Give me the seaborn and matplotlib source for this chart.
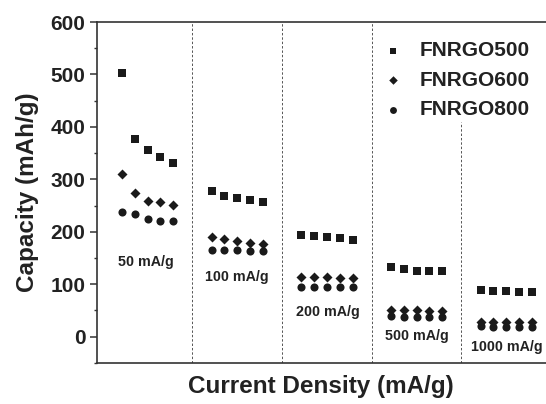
import matplotlib
matplotlib.use("Agg")
import matplotlib.pyplot as plt
from matplotlib.ticker import MultipleLocator
import seaborn as sns
import pandas as pd
import numpy as np

# current densities (one block of 5 cycles each)
rates = ["50 mA/g", "100 mA/g", "200 mA/g", "500 mA/g", "1000 mA/g"]
samples = ["FNRGO500", "FNRGO600", "FNRGO800"]

fnrgo500 = [502, 377, 356, 342, 331, 277, 269, 264, 260, 256,
            194, 191, 189, 188, 185, 132, 128, 126, 125, 125,
            88, 87, 86, 85, 85]
fnrgo600 = [310, 274, 258, 256, 251, 190, 186, 182, 179, 177,
            113, 113, 113, 112, 112, 51, 50, 50, 49, 49,
            28, 27, 27, 27, 27]
fnrgo800 = [238, 234, 224, 220, 220, 166, 165, 165, 164, 164,
            95, 94, 94, 94, 94, 39, 38, 38, 38, 38,
            20, 19, 19, 19, 19]

# build long dataframe, blocks spaced with a gap of two slots
pos = np.concatenate([i * 7 + np.arange(1, 6) for i in range(len(rates))])
df = pd.DataFrame({
    "pos": np.tile(pos, 3),
    "capacity": fnrgo500 + fnrgo600 + fnrgo800,
    "sample": np.repeat(samples, len(pos)),
})

sns.set_style("ticks")
plt.rcParams["font.family"] = ["Liberation Sans", "DejaVu Sans"]
plt.rcParams["font.weight"] = "bold"

fig = plt.figure(figsize=(5.46, 4.04), dpi=100)
ax = fig.add_axes([0.177, 0.102, 0.823, 0.8435])

markers = {"FNRGO500": "s", "FNRGO600": "D", "FNRGO800": "o"}
sizes = {"FNRGO500": 30, "FNRGO600": 26, "FNRGO800": 34}
for name in samples:
    sub = df[df["sample"] == name]
    sns.scatterplot(data=sub, x="pos", y="capacity", marker=markers[name],
                    s=sizes[name], color="#1a1a1a", linewidth=0, label=name, ax=ax)

# dashed separators between the current density blocks
for i, xb in enumerate([6.5, 13.5, 20.5, 27.5]):
    top = 410 if i == 3 else 600
    ax.plot([xb, xb], [-50, top], ls=(0, (2.5, 2)), lw=0.7, color="#555555")

# rate labels
label_xy = [(2.87, 143), (9.98, 114), (17.08, 46), (24.03, 1), (31.05, -20)]
for txt, (lx, ly) in zip(rates, label_xy):
    ax.text(lx, ly, txt, ha="center", va="center", fontsize=10.3,
            fontweight="bold", color="#222222")

ax.set_xlim(-0.98, 34.1)
ax.set_ylim(-50, 600)
ax.yaxis.set_major_locator(MultipleLocator(100))
ax.yaxis.set_minor_locator(MultipleLocator(50))
ax.set_xticks([])
ax.tick_params(axis="y", which="major", direction="out", length=5, width=1.1,
               labelsize=15, labelcolor="#222222", color="#333333", pad=3)
ax.tick_params(axis="y", which="minor", direction="out", length=2.5, width=1.0,
               color="#333333")
for lbl in ax.get_yticklabels():
    lbl.set_fontweight("bold")

for side in ["left", "bottom", "top"]:
    ax.spines[side].set_linewidth(1.2)
    ax.spines[side].set_color("#333333")
ax.spines["right"].set_visible(False)

ax.set_xlabel("Current Density (mA/g)", fontsize=17.5, fontweight="bold",
              color="#222222", labelpad=8.5)
ax.set_ylabel("Capacity (mAh/g)", fontsize=17.5, fontweight="bold",
              color="#222222", labelpad=8)

leg = ax.legend(frameon=False, loc="upper left", bbox_to_anchor=(374 / 546, 0.918),
                bbox_transform=fig.transFigure, borderaxespad=0, fontsize=15,
                handlelength=1.0, handletextpad=0.8, labelspacing=0.5,
                markerscale=0.85)
for t in leg.get_texts():
    t.set_color("#222222")
    t.set_fontweight("bold")

fig.savefig("out.png", dpi=100)
